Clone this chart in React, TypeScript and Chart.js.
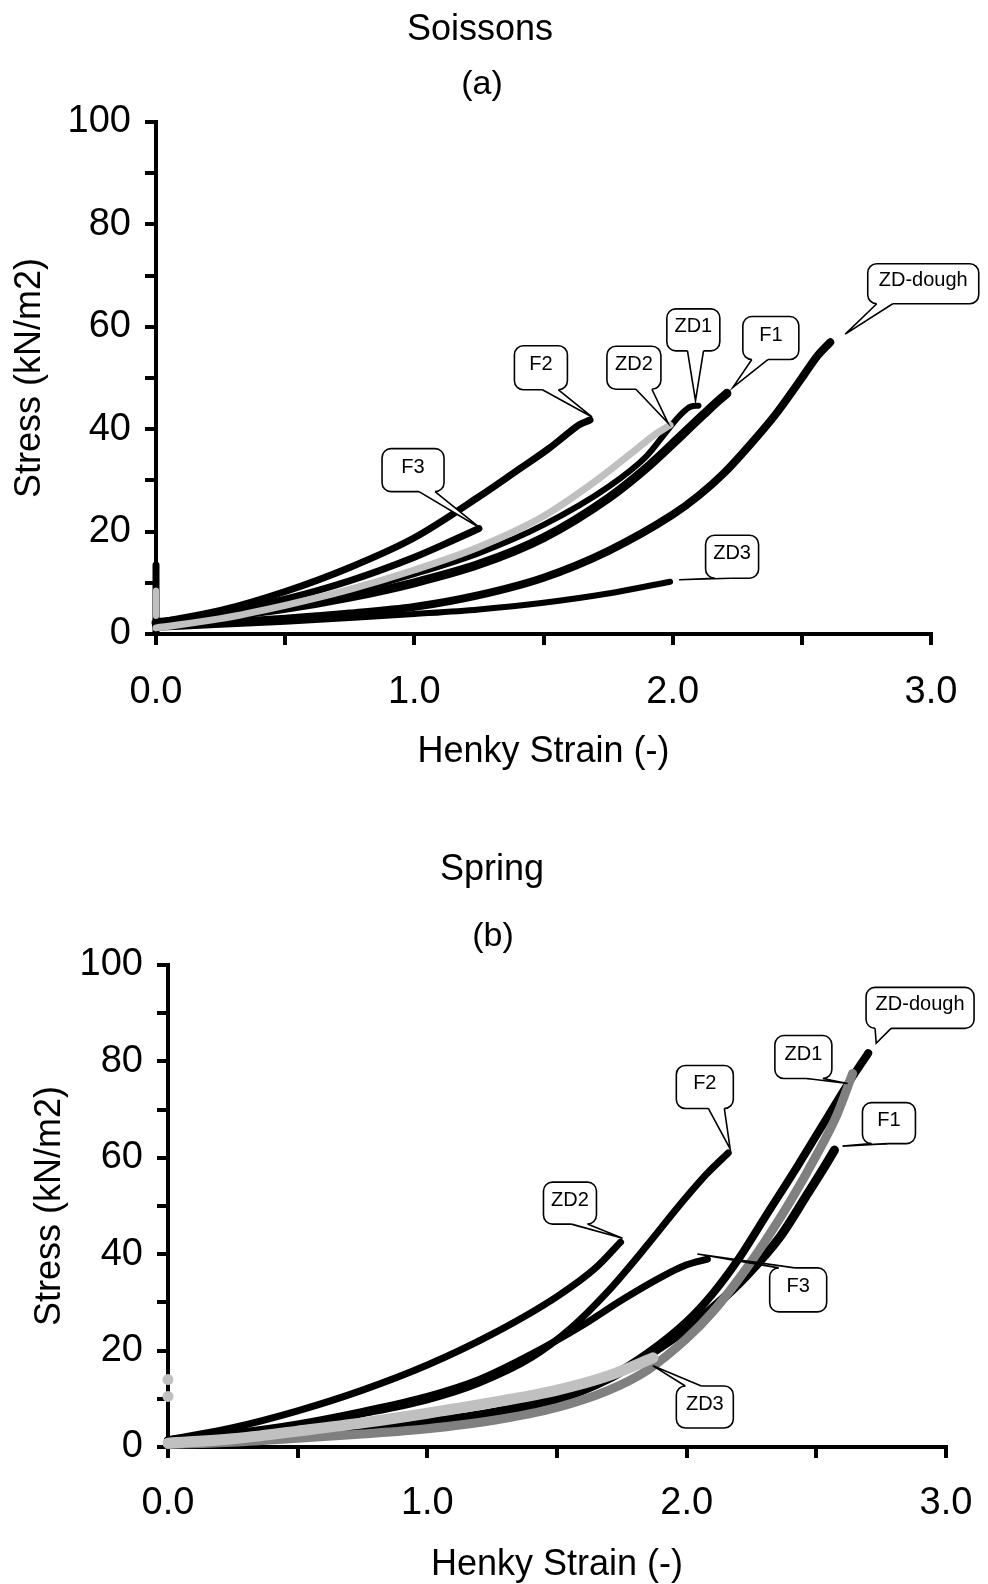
import { useEffect, useRef } from "react";
import { Chart, registerables } from "chart.js";

Chart.register(...registerables);

const FONT = "'Liberation Sans', Arial, Helvetica, sans-serif";
const BLACK = "#000000";
const LIGHT_GREY = "#c0c0c0";
const DARK_GREY = "#808080";

type Pt = [number, number];

// ---------- (a) Soissons: Henky strain vs stress (kN/m2) ----------
const soissonsF1: Pt[] = [[0, 2.2], [0.25, 3.4], [0.5, 5.0], [0.75, 7.2], [1.0, 10.0], [1.25, 13.6], [1.5, 18.8], [1.75, 26.5], [1.9, 32.5], [2.03, 38.6], [2.12, 42.9], [2.18, 45.7], [2.21, 47.0]];
const soissonsF2: Pt[] = [[0, 2.2], [0.25, 4.6], [0.5, 8.3], [0.75, 13.0], [1.0, 18.8], [1.25, 26.8], [1.4, 32.0], [1.52, 36.2], [1.6, 39.4], [1.64, 40.9], [1.68, 41.8]];
const soissonsF3: Pt[] = [[0, 2.2], [0.25, 4.0], [0.5, 6.8], [0.75, 10.4], [1.0, 15.0], [1.15, 18.3], [1.25, 20.6]];
const soissonsZD1: Pt[] = [[0, 1.5], [0.25, 3.0], [0.5, 5.3], [0.75, 8.2], [1.0, 11.7], [1.25, 15.8], [1.5, 21.3], [1.75, 28.7], [1.9, 34.8], [1.98, 39.8], [2.03, 42.8], [2.07, 44.4], [2.1, 44.6]];
const soissonsZD2: Pt[] = [[0, 1.2], [0.25, 3.0], [0.5, 5.6], [0.75, 8.7], [1.0, 12.5], [1.25, 17.0], [1.5, 23.0], [1.7, 29.8], [1.84, 35.3], [1.93, 38.9], [1.99, 40.8]];
const soissonsZD3: Pt[] = [[0, 1.2], [0.25, 1.8], [0.5, 2.4], [0.75, 3.1], [1.0, 3.9], [1.25, 4.8], [1.5, 6.1], [1.75, 7.9], [1.99, 10.2]];
const soissonsDough: Pt[] = [[0, 1.5], [0.25, 2.2], [0.5, 3.0], [0.75, 4.0], [1.0, 5.3], [1.25, 7.6], [1.5, 11.0], [1.75, 16.2], [2.0, 23.3], [2.1, 27.0], [2.2, 31.5], [2.3, 37.0], [2.4, 43.0], [2.5, 50.0], [2.56, 54.3], [2.61, 57.0]];
const soissonsStartBlack: Pt[] = [[0, 0.3], [0, 13.5]];
const soissonsStartGrey: Pt[] = [[0, 3.5], [0, 8.5]];

// ---------- (b) Spring ----------
const springF1: Pt[] = [[0, 1.0], [0.25, 1.5], [0.5, 2.3], [0.75, 3.4], [1.0, 4.8], [1.25, 6.7], [1.5, 9.8], [1.7, 14.2], [1.85, 19.0], [2.0, 24.5], [2.12, 29.8], [2.23, 35.5], [2.36, 43.6], [2.46, 52.0], [2.53, 58.0], [2.57, 61.6]];
const springF2: Pt[] = [[0, 1.5], [0.25, 2.8], [0.5, 4.5], [0.75, 6.9], [1.0, 9.8], [1.2, 13.3], [1.4, 18.5], [1.55, 24.5], [1.7, 32.5], [1.85, 42.0], [1.97, 50.0], [2.08, 56.8], [2.16, 61.0]];
const springF3: Pt[] = [[0, 1.5], [0.25, 2.9], [0.5, 4.8], [0.75, 7.4], [1.0, 10.5], [1.2, 14.0], [1.4, 19.2], [1.6, 25.3], [1.75, 30.5], [1.9, 35.2], [2.0, 37.8], [2.08, 39.0]];
const springZD1: Pt[] = [[0, 0.5], [0.25, 1.0], [0.5, 1.8], [0.75, 2.7], [1.0, 3.8], [1.25, 5.5], [1.5, 8.2], [1.7, 11.8], [1.85, 16.0], [2.0, 22.5], [2.1, 28.0], [2.2, 34.8], [2.3, 42.5], [2.4, 51.0], [2.5, 60.5], [2.58, 69.0], [2.64, 77.5]];
const springZD2: Pt[] = [[0, 1.5], [0.25, 4.0], [0.5, 7.5], [0.75, 11.8], [1.0, 17.0], [1.25, 23.4], [1.5, 31.2], [1.65, 37.2], [1.745, 42.5]];
const springZD3: Pt[] = [[0, 0.8], [0.25, 1.7], [0.5, 3.3], [0.75, 5.0], [1.0, 7.0], [1.28, 9.5], [1.5, 11.8], [1.7, 14.8], [1.87, 18.5]];
const springDough: Pt[] = [[0, 1.0], [0.25, 1.6], [0.5, 2.5], [0.75, 3.7], [1.0, 5.2], [1.25, 7.2], [1.5, 10.3], [1.7, 14.5], [1.85, 19.5], [2.0, 26.0], [2.1, 31.8], [2.2, 39.0], [2.3, 47.5], [2.43, 58.5], [2.53, 67.3], [2.62, 75.2], [2.7, 81.7]];
const springStartDots: Pt[] = [[0, 14.0], [0, 10.5]];

// Axis ticks
const strainMin = 0;
const strainMax = 3;
const strainStep = 0.5;
const stressMin = 0;
const stressMax = 100;
const stressStep = 10;
const stressLabelEvery = 20;

interface Curve {
  name: string;
  pts: Pt[];
  color: string;
  width: number;
  dots?: boolean;
}

interface Callout {
  series: string;
  text: string;
  cx: number; // box centre, data units
  cy: number;
  w: number; // box size, px
  h: number;
  dx: number; // pointer tip offset from the series' last point, px
  dy: number;
}

interface Panel {
  title: string;
  sub: string;
  titleX: number;
  titleY: number;
  subX: number;
  subY: number;
  height: number;
  top: number;
  right: number;
  yAxisW: number;
  xAxisH: number;
  yTitlePad: number;
  xTitlePad: number;
  yTickPad: number;
  xTickPad: number;
  curves: Curve[];
  callouts: Callout[];
}

const panelA: Panel = {
  title: "Soissons",
  sub: "(a)",
  titleX: 480,
  titleY: 30,
  subX: 482,
  subY: 85,
  height: 800,
  top: 122,
  right: 57,
  yAxisW: 156,
  xAxisH: 166,
  yTitlePad: 12,
  xTitlePad: 30,
  yTickPad: 14,
  xTickPad: 29,
  curves: [
    { name: "ZD2", pts: soissonsZD2, color: LIGHT_GREY, width: 7 },
    { name: "start-grey", pts: soissonsStartGrey, color: LIGHT_GREY, width: 6 },
    { name: "ZD1", pts: soissonsZD1, color: BLACK, width: 6 },
    { name: "F2", pts: soissonsF2, color: BLACK, width: 7 },
    { name: "F3", pts: soissonsF3, color: BLACK, width: 7 },
    { name: "F1", pts: soissonsF1, color: BLACK, width: 9 },
    { name: "ZD-dough", pts: soissonsDough, color: BLACK, width: 8 },
    { name: "ZD3", pts: soissonsZD3, color: BLACK, width: 6 },
    { name: "start-black", pts: soissonsStartBlack, color: BLACK, width: 7 },
  ],
  callouts: [
    { series: "F3", text: "F3", cx: 0.995, cy: 32.0, w: 62, h: 43, dx: 2, dy: 0 },
    { series: "F2", text: "F2", cx: 1.49, cy: 52.0, w: 53, h: 44, dx: 2, dy: -3 },
    { series: "ZD2", text: "ZD2", cx: 1.85, cy: 52.0, w: 54, h: 43, dx: -2, dy: -2 },
    { series: "ZD1", text: "ZD1", cx: 2.08, cy: 59.4, w: 53, h: 42, dx: -3, dy: -5 },
    { series: "F1", text: "F1", cx: 2.38, cy: 57.8, w: 56, h: 43, dx: 6, dy: -6 },
    { series: "ZD-dough", text: "ZD-dough", cx: 2.97, cy: 68.4, w: 111, h: 40, dx: 15, dy: -8 },
    { series: "ZD3", text: "ZD3", cx: 2.23, cy: 15.1, w: 53, h: 43, dx: 9, dy: -2 },
  ],
};

const panelB: Panel = {
  title: "Spring",
  sub: "(b)",
  titleX: 492,
  titleY: 70,
  subX: 493,
  subY: 137,
  height: 784,
  top: 165,
  right: 42,
  yAxisW: 168,
  xAxisH: 137,
  yTitlePad: 32,
  xTitlePad: 1,
  yTickPad: 14,
  xTickPad: 27,
  curves: [
    { name: "ZD3", pts: springZD3, color: LIGHT_GREY, width: 11 },
    { name: "start-dots", pts: springStartDots, color: LIGHT_GREY, width: 11, dots: true },
    { name: "ZD1", pts: springZD1, color: DARK_GREY, width: 9 },
    { name: "ZD2", pts: springZD2, color: BLACK, width: 7 },
    { name: "F2", pts: springF2, color: BLACK, width: 7 },
    { name: "F3", pts: springF3, color: BLACK, width: 7 },
    { name: "F1", pts: springF1, color: BLACK, width: 9 },
    { name: "ZD-dough", pts: springDough, color: BLACK, width: 8 },
  ],
  callouts: [
    { series: "ZD-dough", text: "ZD-dough", cx: 2.9, cy: 91.1, w: 108, h: 41, dx: 8, dy: -10 },
    { series: "ZD1", text: "ZD1", cx: 2.45, cy: 80.9, w: 57, h: 43, dx: -5, dy: 10 },
    { series: "F2", text: "F2", cx: 2.07, cy: 74.7, w: 57, h: 43, dx: 2, dy: -4 },
    { series: "F1", text: "F1", cx: 2.78, cy: 67.2, w: 53, h: 41, dx: 8, dy: -4 },
    { series: "ZD2", text: "ZD2", cx: 1.55, cy: 50.6, w: 53, h: 42, dx: 2, dy: -4 },
    { series: "F3", text: "F3", cx: 2.43, cy: 32.6, w: 57, h: 44, dx: -10, dy: -5 },
    { series: "ZD3", text: "ZD3", cx: 2.07, cy: 8.3, w: 57, h: 42, dx: 0, dy: 8 },
  ],
};

const clamp = (v: number, lo: number, hi: number) => Math.max(lo, Math.min(hi, v));

function roundRectPath(ctx: CanvasRenderingContext2D, x: number, y: number, w: number, h: number, r: number) {
  ctx.beginPath();
  ctx.moveTo(x + r, y);
  ctx.arcTo(x + w, y, x + w, y + h, r);
  ctx.arcTo(x + w, y + h, x, y + h, r);
  ctx.arcTo(x, y + h, x, y, r);
  ctx.arcTo(x, y, x + w, y, r);
  ctx.closePath();
}

function drawCallout(ctx: CanvasRenderingContext2D, bx: number, by: number, w: number, h: number, tx: number, ty: number, text: string) {
  const L = bx - w / 2;
  const R = bx + w / 2;
  const T = by - h / 2;
  const B = by + h / 2;
  const r = 9;
  const hw = 8;
  let e1: Pt, e2: Pt, i1: Pt, i2: Pt;
  if (ty > B) {
    const c = clamp(tx, L + r + hw, R - r - hw);
    e1 = [c - hw, B]; e2 = [c + hw, B]; i1 = [c - hw, B - 2.5]; i2 = [c + hw, B - 2.5];
  } else if (ty < T) {
    const c = clamp(tx, L + r + hw, R - r - hw);
    e1 = [c - hw, T]; e2 = [c + hw, T]; i1 = [c - hw, T + 2.5]; i2 = [c + hw, T + 2.5];
  } else if (tx > R) {
    const c = clamp(ty, T + r + hw, B - r - hw);
    e1 = [R, c - hw]; e2 = [R, c + hw]; i1 = [R - 2.5, c - hw]; i2 = [R - 2.5, c + hw];
  } else {
    const c = clamp(ty, T + r + hw, B - r - hw);
    e1 = [L, c - hw]; e2 = [L, c + hw]; i1 = [L + 2.5, c - hw]; i2 = [L + 2.5, c + hw];
  }
  ctx.lineWidth = 1.6;
  ctx.strokeStyle = BLACK;
  ctx.fillStyle = "#ffffff";
  roundRectPath(ctx, L, T, w, h, r);
  ctx.fill();
  ctx.stroke();
  // pointer wedge, opened into the box
  ctx.beginPath();
  ctx.moveTo(i1[0], i1[1]);
  ctx.lineTo(e1[0], e1[1]);
  ctx.lineTo(tx, ty);
  ctx.lineTo(e2[0], e2[1]);
  ctx.lineTo(i2[0], i2[1]);
  ctx.closePath();
  ctx.fill();
  ctx.beginPath();
  ctx.moveTo(e1[0], e1[1]);
  ctx.lineTo(tx, ty);
  ctx.lineTo(e2[0], e2[1]);
  ctx.stroke();
  ctx.fillStyle = BLACK;
  ctx.font = `20px ${FONT}`;
  ctx.textAlign = "center";
  ctx.textBaseline = "middle";
  ctx.fillText(text, bx, by - 3);
}

function decorPlugin(panel: Panel) {
  return {
    id: "panelDecor",
    afterDatasetsDraw(chart: any) {
      const { ctx } = chart;
      const xs = chart.scales.x;
      const ys = chart.scales.y;
      ctx.save();
      ctx.fillStyle = BLACK;
      ctx.textAlign = "center";
      ctx.textBaseline = "middle";
      ctx.font = `36px ${FONT}`;
      ctx.fillText(panel.title, panel.titleX, panel.titleY);
      ctx.font = `34px ${FONT}`;
      ctx.fillText(panel.sub, panel.subX, panel.subY);
      for (const c of panel.callouts) {
        const ds = chart.data.datasets.find((d: any) => d.label === c.series);
        if (!ds) continue;
        const last = ds.data[ds.data.length - 1];
        const tx = xs.getPixelForValue(last.x) + c.dx;
        const ty = ys.getPixelForValue(last.y) + c.dy;
        drawCallout(ctx, xs.getPixelForValue(c.cx), ys.getPixelForValue(c.cy), c.w, c.h, tx, ty, c.text);
      }
      ctx.restore();
    },
  };
}

const isWhole = (v: number) => Math.abs(v - Math.round(v)) < 1e-6;

function buildConfig(panel: Panel): any {
  const tickFont = { family: FONT, size: 38, lineHeight: 1 };
  const titleFont = { family: FONT, size: 36, lineHeight: 1 };
  const tickMarks = {
    drawOnChartArea: false,
    drawTicks: true,
    tickLength: 11,
    tickWidth: 4,
    tickColor: BLACK,
    lineWidth: 4,
    color: BLACK,
  };
  return {
    type: "scatter",
    data: {
      datasets: panel.curves.map((c) => ({
        label: c.name,
        data: c.pts.map(([x, y]) => ({ x, y })),
        showLine: !c.dots,
        borderColor: c.color,
        backgroundColor: c.color,
        borderWidth: c.dots ? 0 : c.width,
        pointRadius: c.dots ? c.width / 2 : 0,
        pointBackgroundColor: c.color,
        pointBorderWidth: 0,
        cubicInterpolationMode: "monotone",
        borderCapStyle: "round",
        borderJoinStyle: "round",
        clip: false,
      })),
    },
    options: {
      responsive: false,
      animation: false,
      events: [],
      layout: { padding: { left: 0, top: panel.top, right: panel.right, bottom: 0 } },
      plugins: {
        legend: { display: false },
        tooltip: { enabled: false },
        title: { display: false },
      },
      scales: {
        x: {
          type: "linear",
          min: strainMin,
          max: strainMax,
          afterFit: (s: any) => {
            s.height = panel.xAxisH;
            s.paddingLeft = 0;
            s.paddingRight = 0;
          },
          ticks: {
            stepSize: strainStep,
            autoSkip: false,
            maxRotation: 0,
            padding: panel.xTickPad,
            color: BLACK,
            font: tickFont,
            callback: (v: any) => (isWhole(Number(v)) ? Number(v).toFixed(1) : ""),
          },
          grid: tickMarks,
          border: { display: true, width: 4, color: BLACK },
          title: {
            display: true,
            text: "Henky Strain (-)",
            color: BLACK,
            font: titleFont,
            padding: { top: 0, bottom: panel.xTitlePad },
          },
        },
        y: {
          type: "linear",
          min: stressMin,
          max: stressMax,
          afterFit: (s: any) => {
            s.width = panel.yAxisW;
          },
          ticks: {
            stepSize: stressStep,
            autoSkip: false,
            padding: panel.yTickPad,
            color: BLACK,
            font: tickFont,
            callback: (v: any) => (Number(v) % stressLabelEvery === 0 ? String(v) : ""),
          },
          grid: tickMarks,
          border: { display: true, width: 4, color: BLACK },
          title: {
            display: true,
            text: "Stress (kN/m2)",
            color: BLACK,
            font: titleFont,
            padding: { top: panel.yTitlePad, bottom: 0 },
          },
        },
      },
    },
    plugins: [decorPlugin(panel)],
  };
}

export default function App() {
  const refA = useRef<HTMLCanvasElement>(null);
  const refB = useRef<HTMLCanvasElement>(null);

  useEffect(() => {
    const a = new Chart(refA.current as HTMLCanvasElement, buildConfig(panelA));
    const b = new Chart(refB.current as HTMLCanvasElement, buildConfig(panelB));
    return () => {
      a.destroy();
      b.destroy();
    };
  }, []);

  return (
    <div style={{ position: "absolute", left: 0, top: 0, width: 988, height: 1584, background: "#ffffff" }}>
      <canvas ref={refA} width={988} height={panelA.height} style={{ position: "absolute", left: 0, top: 0 }} />
      <canvas ref={refB} width={988} height={panelB.height} style={{ position: "absolute", left: 0, top: panelA.height }} />
    </div>
  );
}
